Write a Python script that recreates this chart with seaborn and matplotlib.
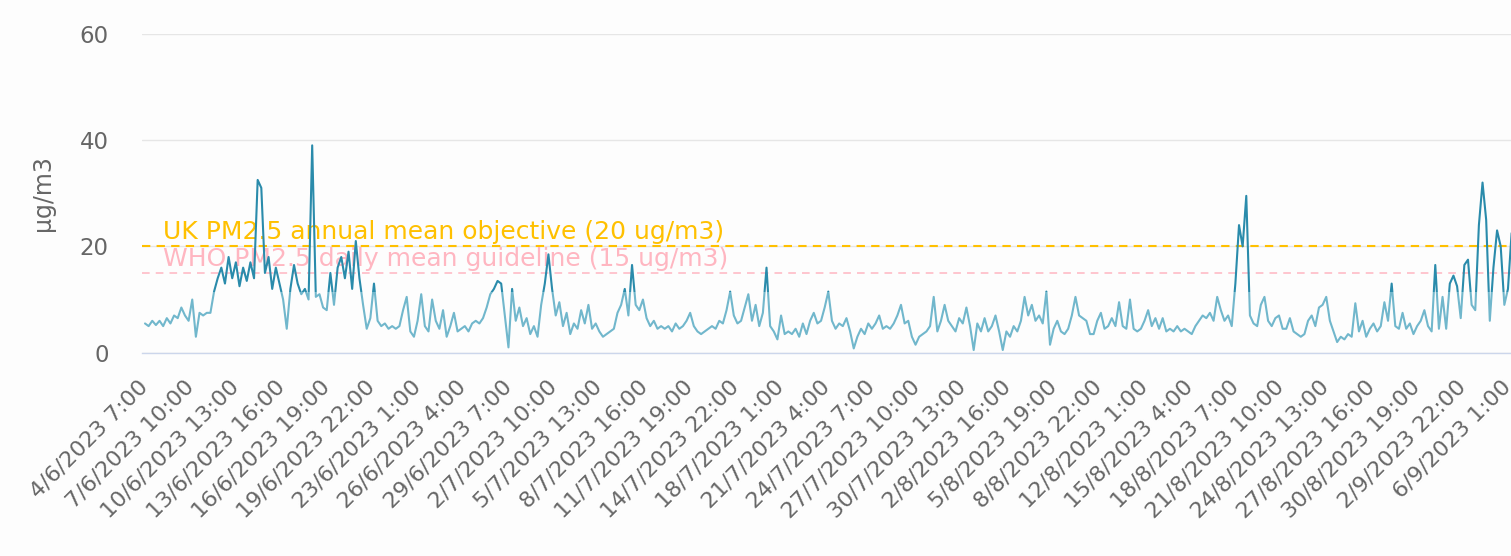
import pandas as pd
import matplotlib
matplotlib.use("Agg")
import matplotlib.pyplot as plt
import matplotlib.transforms as mtransforms
from matplotlib.patches import Rectangle
import seaborn as sns


# hourly PM2.5 readings, every 6 hours from 4/6/2023 7:00
start = "2023-06-04 07:00"
step_hours = 6
pm25 = [
    5.5, 5, 6, 5.2, 6, 5, 6.5, 5.5, 7, 6.5,
    8.5, 7, 6, 10, 3, 7.5, 7, 7.5, 7.5, 11.5,
    14, 16, 13, 18, 14, 17, 12.5, 16, 13.5, 17,
    14, 32.5, 31, 15, 18, 12, 16, 13, 10, 4.5,
    12, 16.5, 13, 11, 12, 10, 39, 10.5, 11, 8.5,
    8, 15, 9, 16, 18, 14, 19, 12, 21, 14,
    9, 4.5,
    6.5, 13, 6, 5, 5.5, 4.5, 5, 4.5, 5, 8,
    10.5, 4, 3, 6, 11, 5, 4, 10, 6, 4.5,
    8, 3, 5, 7.5, 4, 4.5, 5, 4, 5.5, 6,
    5.5, 6.5, 8.5, 11, 12, 13.5, 13, 7, 1, 12,
    6, 8.5, 5, 6.5, 3.5, 5, 3, 9, 13, 18.5,
    12, 7, 9.5, 5, 7.5, 3.5, 5.5, 4.5, 8, 5.5,
    9,
    4.5, 5.5, 4, 3, 3.5, 4, 4.5, 7.5, 9, 12,
    7, 16.5, 9, 8, 10, 6.5, 5, 6, 4.5, 5,
    4.5, 5, 4, 5.5, 4.5, 5, 6, 7.5, 5, 4,
    3.5, 4, 4.5, 5, 4.5, 6, 5.5, 8, 11.5, 7,
    5.5, 6, 8.5, 11, 6, 9, 5, 7.5, 16, 5,
    4, 2.5, 7, 3.5, 4, 3.5, 4.5, 3, 5.5, 3.5,
    6,
    7.5, 5.5, 6, 8.5, 11.5, 6, 4.5, 5.5, 5, 6.5,
    4, 0.8, 3, 4.5, 3.5, 5.5, 4.5, 5.5, 7, 4.5,
    5, 4.5, 5.5, 7, 9, 5.5, 6, 3, 1.5, 3,
    3.5, 4, 5, 10.5, 4, 6, 9, 6, 5, 4,
    6.5, 5.5, 8.5, 5, 0.5, 5.5, 4, 6.5, 4, 5,
    7, 4, 0.5, 4, 3, 5, 4, 6, 10.5, 7,
    9, 6, 7, 5.5, 11.5, 1.5, 4.5, 6, 4, 3.5,
    4.5, 7, 10.5, 7, 6.5, 6, 3.5, 3.5, 6, 7.5,
    4.5, 5, 6.5, 5, 9.5, 5, 4.5, 10, 4.5, 4,
    4.5, 6, 8, 5, 6.5, 4.5, 6.5, 4, 4.5, 4,
    5, 4, 4.5, 4, 3.5, 5, 6, 7, 6.5, 7.5,
    6, 10.5, 8, 6, 7, 5, 13, 24, 20, 29.5,
    7,
    5.5, 5, 9, 10.5, 6, 5, 6.5, 7, 4.5, 4.5,
    6.5, 4, 3.5, 3, 3.5, 6, 7, 5, 8.5, 9,
    10.5, 6, 4, 2, 3, 2.5, 3.5, 3, 9.3, 4,
    6, 3, 4.5, 5.5, 4, 5, 9.5, 6, 13, 5,
    4.5, 7.5, 4.5, 5.5, 3.5, 5, 6, 8, 5, 4,
    16.5, 4.5, 10.5, 4.5, 13, 14.5, 12.5, 6.5, 16.5, 17.5,
    9, 8, 24, 32, 25, 6, 16, 23, 20, 9,
    12, 22.5,
]

uk_objective = 20
who_guideline = 15
zone_split = 11.5
uk_label = "UK PM2.5 annual mean objective (20 ug/m3)"
who_label = "WHO PM2.5 daily mean guideline (15 ug/m3)"
y_label = "µg/m3"
y_ticks = [0, 20, 40, 60]

light_blue = "#71b7cc"
dark_blue = "#2a8bab"
uk_colour = "#ffc000"
who_colour = "#ffb6c1"
text_grey = "#666666"

times = pd.date_range(start, periods=len(pm25), freq=f"{step_hours}h")
df = pd.DataFrame({"time": times, "pm25": pm25})

# a label every 75 hours, like the original category axis
tick_times = pd.date_range(start, periods=31, freq="75h")
tick_labels = [f"{t.day}/{t.month}/{t.year} {t.hour}:{t.minute:02d}" for t in tick_times]

sns.set_style("white")
plt.rcParams["font.family"] = ["DejaVu Sans"]

fig = plt.figure(figsize=(15.11, 5.56), dpi=100)
fig.patch.set_facecolor("#fdfdfd")
ax = fig.add_axes([142 / 1511, 1 - 352.7 / 556, (1511 - 142) / 1511, (352.7 - 33.7) / 556])
ax.set_facecolor("#fdfdfd")

# same series twice: light below the zone split, dark above it
sns.lineplot(data=df, x="time", y="pm25", ax=ax, color=light_blue, linewidth=1.5, zorder=4)
sns.lineplot(data=df, x="time", y="pm25", ax=ax, color=dark_blue, linewidth=1.5, zorder=4)
low_line, high_line = ax.lines[0], ax.lines[1]
band = mtransforms.blended_transform_factory(ax.transAxes, ax.transData)
low_line.set_clip_path(Rectangle((0, -100), 1, zone_split + 100, transform=band))
high_line.set_clip_path(Rectangle((0, zone_split), 1, 200, transform=band))

ax.axhline(uk_objective, color=uk_colour, linewidth=1.5, linestyle=(0, (4, 3)), zorder=3)
ax.axhline(who_guideline, color=who_colour, linewidth=1.1, linestyle=(0, (5, 4)), zorder=3)
ax.text(0.0153, 21.3, uk_label, transform=band, color=uk_colour, fontsize=18,
        va="baseline", ha="left", zorder=3.5)
ax.text(0.0153, 16.4, who_label, transform=band, color=who_colour, fontsize=18,
        va="baseline", ha="left", zorder=3.5)

ax.set_ylim(0, 60)
ax.set_xlim(pd.Timestamp(start) - pd.Timedelta(hours=4.95),
            pd.Timestamp(start) + pd.Timedelta(hours=2255))
ax.set_yticks(y_ticks)
ax.set_yticklabels([str(v) for v in y_ticks])
ax.set_xticks(tick_times)
ax.set_xticklabels(tick_labels, rotation=45, ha="right", rotation_mode="anchor", va="center")
ax.tick_params(axis="x", length=0, pad=22, labelsize=16, labelcolor=text_grey)
ax.tick_params(axis="y", length=0, pad=24, labelsize=16.5, labelcolor=text_grey)

ax.set_xlabel("")
ax.set_ylabel(y_label, fontsize=17, color=text_grey, labelpad=18)

ax.yaxis.grid(True, color="#e6e6e6", linewidth=1)
ax.xaxis.grid(False)
for side in ["top", "right", "left"]:
    ax.spines[side].set_visible(False)
ax.spines["bottom"].set_color("#ccd6eb")
ax.spines["bottom"].set_linewidth(1)

plt.savefig("out.png", dpi=100)
